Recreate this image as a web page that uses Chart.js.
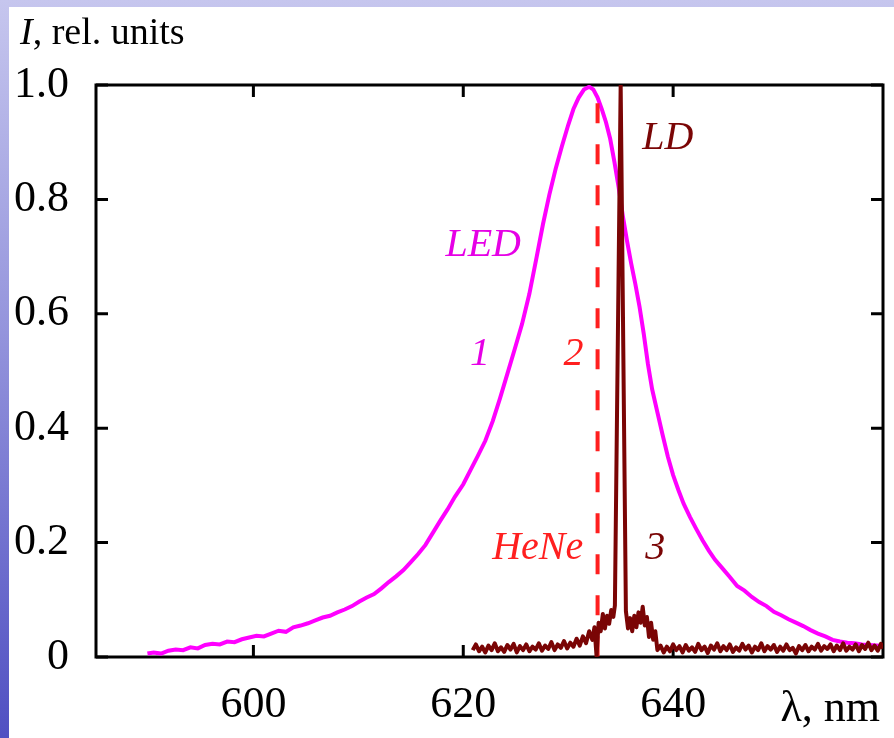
<!DOCTYPE html>
<html>
<head>
<meta charset="utf-8">
<script src="https://cdn.jsdelivr.net/npm/chart.js@4.4.1/dist/chart.umd.min.js"></script>
<style>
  html, body { margin: 0; padding: 0; }
  body {
    width: 894px; height: 738px; overflow: hidden; position: relative;
    background: linear-gradient(180deg, #c6c6ee 0%, #9494dc 45%, #5050c2 100%);
  }
  #sheet { position: absolute; left: 9px; top: 7px; right: 0; bottom: 0; background: #fff; }
  #wrap { position: absolute; left: 0; top: 0; width: 894px; height: 738px; }
</style>
</head>
<body>
<div id="sheet"></div>
<div id="wrap"><canvas id="spectra"></canvas></div>
<script>
// curve 1: LED spectrum
const ledLambda = [
  589.9, 590.5, 591.2, 591.9, 592.6, 593.3, 594.0, 594.7, 595.4, 596.1,
  596.8, 597.5, 598.2, 598.9, 599.6, 600.3, 601.0, 601.7, 602.4, 603.1,
  603.8, 604.5, 605.2, 605.9, 606.6, 607.3, 608.0, 608.7, 609.4, 610.1,
  610.8, 611.5, 612.2, 612.9, 613.6, 614.3, 615.0, 615.7, 616.4, 617.1,
  617.8, 618.5, 619.2, 620.0, 620.7, 621.4, 622.1, 622.8, 623.5, 624.2,
  624.9, 625.6, 626.3, 627.0, 627.6, 628.2, 628.8, 629.4, 630.0, 630.5,
  631.0, 631.5, 632.0, 632.4, 632.8, 633.2, 633.6, 634.0, 634.4, 634.8,
  635.2, 635.6, 636.0, 636.4, 636.8, 637.2, 637.6, 638.0, 638.5, 639.0,
  639.5, 640.0, 640.5, 641.0, 641.6, 642.2, 642.8, 643.4, 644.0, 644.7,
  645.4, 646.1, 646.8, 647.5, 648.2, 648.9, 649.6, 650.3, 651.0, 651.7,
  652.4, 653.1, 653.8, 654.5, 655.2, 655.9, 656.6, 657.3, 658.0, 658.7,
  659.4, 660.0
];
const ledValue = [
  0.006, 0.008, 0.006, 0.011, 0.013, 0.012, 0.017, 0.015, 0.021, 0.023,
  0.022, 0.027, 0.026, 0.031, 0.034, 0.037, 0.036, 0.041, 0.046, 0.044,
  0.052, 0.055, 0.059, 0.064, 0.069, 0.072, 0.078, 0.083, 0.089, 0.097,
  0.104, 0.110, 0.120, 0.131, 0.141, 0.152, 0.166, 0.180, 0.196, 0.217,
  0.238, 0.258, 0.280, 0.302, 0.327, 0.352, 0.378, 0.412, 0.452, 0.495,
  0.538, 0.582, 0.635, 0.700, 0.757, 0.808, 0.853, 0.893, 0.930, 0.958,
  0.978, 0.992, 0.997, 0.992, 0.978, 0.958, 0.935, 0.906, 0.866, 0.822,
  0.772, 0.728, 0.688, 0.652, 0.612, 0.565, 0.512, 0.468, 0.428, 0.388,
  0.350, 0.318, 0.292, 0.268, 0.245, 0.224, 0.204, 0.186, 0.170, 0.155,
  0.140, 0.124, 0.116, 0.105, 0.096, 0.089, 0.079, 0.073, 0.066, 0.060,
  0.054, 0.047, 0.041, 0.036, 0.030, 0.027, 0.025, 0.024, 0.022, 0.021,
  0.020, 0.019
];

// curve 2: HeNe line
const heneLambda = [632.8, 632.8];
const heneValue = [0.968, 0];

// curve 3: laser diode
const ldLambda = [
  620.9, 621.2, 621.5, 621.8, 622.1, 622.4, 622.7, 623.0, 623.3, 623.6,
  623.9, 624.2, 624.5, 624.8, 625.1, 625.4, 625.7, 626.0, 626.3, 626.6,
  626.9, 627.2, 627.5, 627.8, 628.1, 628.4, 628.7, 629.0, 629.3, 629.6,
  629.9, 630.2, 630.5, 630.8, 631.1, 631.4, 631.7, 632.0, 632.3, 632.5,
  632.7, 632.9, 633.1, 633.3, 633.5, 633.7, 633.9, 634.1, 634.3, 634.45,
  635.0, 635.5, 635.7, 635.9, 636.1, 636.3, 636.5, 636.7, 636.9, 637.1,
  637.3, 637.5, 637.7, 637.9, 638.1, 638.3, 638.5, 638.8, 639.1, 639.4,
  639.7, 640.0, 640.3, 640.6, 640.9, 641.2, 641.5, 641.8, 642.1, 642.4,
  642.7, 643.0, 643.3, 643.6, 643.9, 644.2, 644.5, 644.8, 645.1, 645.4,
  645.7, 646.0, 646.3, 646.6, 646.9, 647.2, 647.5, 647.8, 648.1, 648.4,
  648.7, 649.0, 649.3, 649.6, 649.9, 650.2, 650.5, 650.8, 651.1, 651.4,
  651.7, 652.0, 652.3, 652.6, 652.9, 653.2, 653.5, 653.8, 654.1, 654.4,
  654.7, 655.0, 655.3, 655.6, 655.9, 656.2, 656.5, 656.8, 657.1, 657.4,
  657.7, 658.0, 658.3, 658.6, 658.9, 659.2, 659.5, 659.8, 660.0
];
const ldValue = [
  0.012, 0.022, 0.010, 0.018, 0.008, 0.020, 0.012, 0.024, 0.010, 0.017,
  0.009, 0.021, 0.013, 0.023, 0.008, 0.019, 0.012, 0.022, 0.010, 0.018,
  0.013, 0.024, 0.011, 0.020, 0.014, 0.026, 0.012, 0.022, 0.016, 0.028,
  0.015, 0.025, 0.018, 0.032, 0.020, 0.036, 0.024, 0.045, 0.030, 0.052,
  0.002, 0.060, 0.045, 0.075, 0.050, 0.072, 0.058, 0.082, 0.070, 0.090,
  1.000, 0.080, 0.050, 0.068, 0.045, 0.072, 0.052, 0.078, 0.060, 0.088,
  0.055, 0.070, 0.035, 0.060, 0.030, 0.045, 0.012, 0.020, 0.008, 0.018,
  0.010, 0.022, 0.012, 0.019, 0.008, 0.021, 0.011, 0.017, 0.009, 0.023,
  0.012, 0.018, 0.007, 0.020, 0.013, 0.024, 0.010, 0.019, 0.012, 0.022,
  0.009, 0.017, 0.011, 0.023, 0.013, 0.020, 0.008, 0.018, 0.012, 0.024,
  0.010, 0.019, 0.013, 0.021, 0.009, 0.018, 0.011, 0.022, 0.012, 0.016,
  0.006, 0.019, 0.012, 0.021, 0.010, 0.018, 0.013, 0.023, 0.011, 0.019,
  0.014, 0.022, 0.010, 0.020, 0.012, 0.024, 0.011, 0.018, 0.013, 0.022,
  0.010, 0.021, 0.014, 0.025, 0.012, 0.020, 0.011, 0.023, 0.015
];

const xTicks = [600, 620, 640];
const yTicks = [0, 0.2, 0.4, 0.6, 0.8, 1.0];
const yTickLabels = ['0', '0.2', '0.4', '0.6', '0.8', '1.0'];

// curve captions, in data coordinates
const captions = [
  { text: 'LED', x: 621.9, y: 0.72, color: '#e600e6' },
  { text: '1', x: 621.6, y: 0.528, color: '#e600e6' },
  { text: '2', x: 630.5, y: 0.528, color: '#ff1f1f' },
  { text: 'HeNe', x: 627.1, y: 0.19, color: '#ff1f1f' },
  { text: 'LD', x: 639.5, y: 0.907, color: '#7a0505' },
  { text: '3', x: 638.3, y: 0.19, color: '#7a0505' }
];

const serif = "'Liberation Serif', 'Times New Roman', serif";
const toPoints = (xs, ys) => xs.map((v, i) => ({ x: v, y: ys[i] }));

const framePlugin = {
  id: 'frame',
  beforeDatasetsDraw(chart) {
    const { ctx, chartArea: a, scales: { x, y } } = chart;
    ctx.save();
    ctx.strokeStyle = '#000';
    ctx.lineWidth = 3;
    ctx.strokeRect(a.left, a.top, a.right - a.left, a.bottom - a.top);
    ctx.beginPath();
    yTicks.forEach(v => {
      const py = y.getPixelForValue(v);
      ctx.moveTo(a.left, py); ctx.lineTo(a.left + 12, py);
      ctx.moveTo(a.right, py); ctx.lineTo(a.right - 12, py);
    });
    xTicks.forEach(v => {
      const px = x.getPixelForValue(v);
      ctx.moveTo(px, a.bottom); ctx.lineTo(px, a.bottom - 12);
      ctx.moveTo(px, a.top); ctx.lineTo(px, a.top + 12);
    });
    ctx.stroke();
    ctx.restore();
  },
  afterDraw(chart) {
    const { ctx, chartArea: a, scales: { x, y } } = chart;
    ctx.save();
    ctx.textBaseline = 'middle';
    ctx.textAlign = 'center';
    ctx.font = `italic 40px ${serif}`;
    captions.forEach(c => {
      ctx.fillStyle = c.color;
      ctx.fillText(c.text, x.getPixelForValue(c.x), y.getPixelForValue(c.y));
    });

    // axis names
    ctx.fillStyle = '#000';
    ctx.textBaseline = 'alphabetic';
    ctx.textAlign = 'left';
    ctx.font = `italic 38px ${serif}`;
    ctx.fillText('I', 20, 44);
    const w = ctx.measureText('I').width;
    ctx.font = `38px ${serif}`;
    ctx.fillText(', rel. units', 20 + w, 44);

    ctx.textAlign = 'right';
    ctx.font = `44px ${serif}`;
    ctx.fillText('\u03bb, nm', a.right - 3, 721);
    ctx.restore();
  }
};

new Chart(document.getElementById('spectra'), {
  type: 'line',
  data: {
    datasets: [
      {
        label: 'LD',
        data: toPoints(ldLambda, ldValue),
        borderColor: '#7a0505',
        borderWidth: 4,
        borderJoinStyle: 'round',
        pointRadius: 0,
        order: 1
      },
      {
        label: 'HeNe',
        data: toPoints(heneLambda, heneValue),
        borderColor: '#ff1f1f',
        borderWidth: 4,
        borderDash: [20, 21],
        pointRadius: 0,
        order: 2
      },
      {
        label: 'LED',
        data: toPoints(ledLambda, ledValue),
        borderColor: '#ff00ff',
        borderWidth: 4,
        pointRadius: 0,
        order: 3
      }
    ]
  },
  options: {
    responsive: true,
    maintainAspectRatio: false,
    animation: false,
    layout: { padding: { top: 85, right: 11, left: 0, bottom: 0 } },
    plugins: {
      legend: { display: false },
      tooltip: { enabled: false }
    },
    scales: {
      x: {
        type: 'linear',
        min: 585,
        max: 660,
        afterBuildTicks: s => { s.ticks = xTicks.map(v => ({ value: v })) },
        afterFit: s => { s.height = 81 },
        grid: { display: false, drawTicks: false },
        border: { display: false },
        ticks: { color: '#000', font: { family: serif, size: 44 }, padding: 22 }
      },
      y: {
        min: 0,
        max: 1,
        afterBuildTicks: s => { s.ticks = yTicks.map(v => ({ value: v })) },
        afterFit: s => { s.width = 96 },
        grid: { display: false, drawTicks: false },
        border: { display: false },
        ticks: {
          color: '#000',
          font: { family: serif, size: 44 },
          padding: 27,
          callback: v => yTickLabels[yTicks.indexOf(v)]
        }
      }
    }
  },
  plugins: [framePlugin]
});
</script>
</body>
</html>
